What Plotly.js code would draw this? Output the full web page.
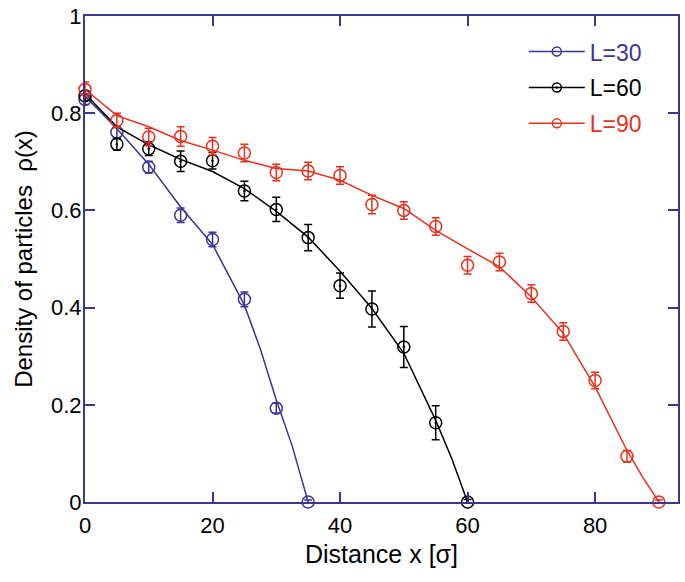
<!DOCTYPE html>
<html>
<head>
<meta charset="utf-8">
<script src="https://cdn.plot.ly/plotly-3.0.1.min.js"></script>
<style>
  html, body { margin: 0; padding: 0; background: #fff; }
  #plot { width: 685px; height: 582px; }
</style>
</head>
<body>
<div id="plot"></div>
<script>
// measured points (x in units of sigma)
const x30 = [0, 5, 10, 15, 20, 25, 30, 35];
const rho30 = [0.828, 0.761, 0.689, 0.590, 0.540, 0.417, 0.193, 0];
const err30 = [0.01, 0.012, 0.012, 0.015, 0.015, 0.015, 0.01, 0.004];

const x60 = [0, 5, 10, 15, 20, 25, 30, 35, 40, 45, 50, 55, 60];
const rho60 = [0.836, 0.736, 0.727, 0.701, 0.702, 0.640, 0.602, 0.544, 0.445, 0.397, 0.319, 0.163, 0];
const err60 = [0.01, 0.012, 0.014, 0.021, 0.017, 0.02, 0.025, 0.027, 0.026, 0.037, 0.042, 0.035, 0.005];

const x90 = [0, 5, 10, 15, 20, 25, 30, 35, 40, 45, 50, 55, 60, 65, 70, 75, 80, 85, 90];
const rho90 = [0.849, 0.785, 0.751, 0.752, 0.732, 0.718, 0.678, 0.681, 0.672, 0.612, 0.600, 0.567, 0.487, 0.494, 0.429, 0.351, 0.250, 0.094, 0];
const err90 = [0.015, 0.015, 0.018, 0.02, 0.018, 0.018, 0.017, 0.018, 0.018, 0.019, 0.018, 0.018, 0.018, 0.018, 0.018, 0.018, 0.017, 0.012, 0.004];

// model curves
const curve30X = [0, 5, 10, 15, 20, 25, 27.5, 30, 32.5, 35];
const curve30Y = [0.835, 0.768, 0.695, 0.607, 0.53, 0.405, 0.315, 0.21, 0.115, 0];
const curve60X = [0, 5, 10, 15, 20, 25, 30, 35, 40, 45, 50, 55, 57.5, 60];
const curve60Y = [0.84, 0.772, 0.735, 0.705, 0.68, 0.645, 0.598, 0.545, 0.475, 0.398, 0.306, 0.168, 0.09, 0];
const curve90X = [0, 5, 10, 15, 20, 25, 30, 35, 40, 45, 50, 55, 60, 65, 70, 75, 80, 85, 87.5, 90];
const curve90Y = [0.849, 0.795, 0.772, 0.744, 0.724, 0.703, 0.686, 0.681, 0.662, 0.631, 0.604, 0.559, 0.521, 0.484, 0.422, 0.347, 0.237, 0.106, 0.05, 0];

const labels = ['L=30', 'L=60', 'L=90'];
const colors = ['#3a3596', '#000000', '#e8301c'];
const symbols = ['circle-open', 'circle-open-dot', 'circle-open'];
const axisColor = '#3d3592';

const sets = [
  { x: x30, y: rho30, err: err30, cx: curve30X, cy: curve30Y },
  { x: x60, y: rho60, err: err60, cx: curve60X, cy: curve60Y },
  { x: x90, y: rho90, err: err90, cx: curve90X, cy: curve90Y }
];

const traces = [];
sets.forEach((s, i) => {
  const group = 'g' + i;
  traces.push({
    type: 'scatter', mode: 'lines', x: s.cx, y: s.cy,
    line: { color: colors[i], width: 1.5 },
    legendgroup: group, showlegend: false, hoverinfo: 'skip'
  });
  traces.push({
    type: 'scatter', mode: 'markers', x: s.x, y: s.y,
    marker: { symbol: symbols[i], size: 12, color: colors[i], line: { width: 1.5, color: colors[i] } },
    error_y: { type: 'data', array: s.err, visible: true, color: colors[i], thickness: 1.5, width: 4 },
    legendgroup: group, showlegend: false, cliponaxis: false
  });
  // legend entry only
  traces.push({
    type: 'scatter', mode: 'lines+markers', x: [null], y: [null],
    name: `<span style="color:${colors[i]}">${labels[i]}</span>`,
    line: { color: colors[i], width: 1.5 },
    marker: { symbol: symbols[i], size: 9, color: colors[i], line: { width: 1.5, color: colors[i] } },
    legendgroup: group, showlegend: true
  });
});

const axisBase = {
  showline: true, linecolor: axisColor, linewidth: 2, mirror: 'ticks',
  ticks: 'inside', ticklen: 10, tickwidth: 2, tickcolor: axisColor,
  showgrid: false, zeroline: false,
  tickfont: { family: 'Liberation Sans, Arial, sans-serif', size: 22, color: '#000' }
};

const layout = {
  width: 685, height: 582,
  margin: { l: 85, r: 7, t: 16, b: 80 },
  paper_bgcolor: '#fff', plot_bgcolor: '#fff',
  font: { family: 'Liberation Sans, Arial, sans-serif', color: '#000' },
  xaxis: Object.assign({}, axisBase, {
    range: [0, 93], tickvals: [0, 20, 40, 60, 80], ticklabelstandoff: 3,
    title: { text: 'Distance x [σ]', font: { size: 25 }, standoff: 8 }
  }),
  yaxis: Object.assign({}, axisBase, {
    range: [0, 1], dtick: 0.2, tick0: 0, ticklabelstandoff: -3,
    title: { text: 'Density of particles\u00a0 ρ(x)', font: { size: 24 }, standoff: 12 }
  }),
  legend: {
    x: 0.74, y: 0.971, xanchor: 'left', yanchor: 'top',
    bgcolor: 'rgba(0,0,0,0)', borderwidth: 0,
    font: { size: 23 }, tracegroupgap: 3, itemwidth: 56
  },
  showlegend: true
};

Plotly.newPlot('plot', traces, layout, { displayModeBar: false, staticPlot: true });
</script>
</body>
</html>
